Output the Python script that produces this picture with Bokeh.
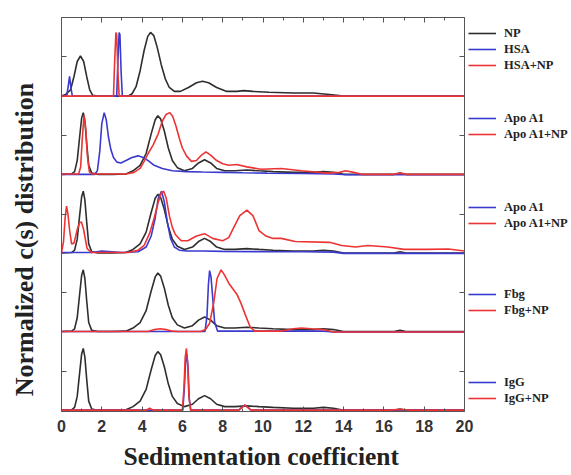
from bokeh.plotting import figure
from bokeh.models import (Range1d, LinearAxis, FixedTicker, Legend, LegendItem, Title, Label)
from bokeh.embed import file_html
from bokeh.resources import INLINE
import math

# ---------------- data ----------------
x_ticks = [0, 2, 4, 6, 8, 10, 12, 14, 16, 18, 20]
x_minor = [0, 1, 2, 3, 4, 5, 6, 7, 8, 9, 10, 11, 12, 13, 14, 15, 16, 17, 18, 19, 20]
y_ticks = [0.5, 1.5, 2.5, 3.5, 4.5]

# panel 1 (top): NP / HSA / HSA+NP
np1_x = [0, 0.2, 0.45, 0.62, 0.78, 0.94, 1.1, 1.25, 1.4, 1.55, 1.8, 3.3, 3.5, 3.7, 3.9, 4.1, 4.28, 4.42, 4.58,
         4.75, 4.95, 5.15, 5.35, 5.6, 5.9, 6.3, 6.7, 7.0, 7.3, 7.7, 8.2, 8.7, 9.05, 9.5, 10.3, 11.5, 12.5, 13.3, 14.0, 20]
np1_y = [0, 0.02, 0.08, 0.25, 0.44, 0.51, 0.44, 0.25, 0.08, 0.01, 0, 0, 0.03, 0.12, 0.32, 0.58, 0.76, 0.81, 0.77,
         0.62, 0.40, 0.22, 0.11, 0.06, 0.06, 0.11, 0.17, 0.19, 0.17, 0.11, 0.06, 0.06, 0.07, 0.06, 0.05, 0.04, 0.04, 0.02, 0.0, 0.0]
hsa_x = [0, 0.26, 0.33, 0.4, 0.47, 0.54, 2.74, 2.8, 2.86, 2.9, 2.96, 3.02, 20]
hsa_y = [0, 0, 0.12, 0.25, 0.1, 0, 0, 0.45, 0.81, 0.78, 0.3, 0, 0]
hsanp_x = [0, 2.58, 2.64, 2.7, 2.74, 2.8, 2.86, 20]
hsanp_y = [0, 0, 0.45, 0.81, 0.78, 0.3, 0, 0]

# NP reference curve used in panels 2-5
np_x = [0, 0.5, 0.65, 0.78, 0.9, 1.0, 1.08, 1.16, 1.25, 1.35, 1.5, 1.8, 2.5, 3.2, 3.55, 3.9, 4.2, 4.45, 4.65, 4.78,
        4.92, 5.1, 5.3, 5.5, 5.75, 6.1, 6.5, 6.8, 7.1, 7.4, 7.7, 8.1, 8.6, 9.2, 9.8, 10.5, 11.5, 12.5, 13.0, 13.5,
        14.0, 16.5, 16.8, 17.1, 20]
np_y = [0.005, 0.01, 0.04, 0.18, 0.48, 0.72, 0.79, 0.68, 0.40, 0.12, 0.02, 0.005, 0.005, 0.01, 0.05, 0.12, 0.27,
        0.52, 0.70, 0.75, 0.71, 0.56, 0.34, 0.18, 0.09, 0.05, 0.08, 0.15, 0.19, 0.15, 0.08, 0.05, 0.05, 0.06, 0.05,
        0.04, 0.03, 0.03, 0.04, 0.03, 0.005, 0.005, 0.02, 0.005, 0.005]

# panel 2: Apo A1 / Apo A1+NP
apo2_x = [0, 1.65, 1.78, 1.9, 2.0, 2.12, 2.22, 2.33, 2.45, 2.58, 2.75, 2.95, 3.2, 3.5, 3.8, 4.05, 4.3, 4.6, 5.0,
          5.5, 6.2, 7.0, 8.0, 9.0, 10.2, 12.0, 13.5, 14.2, 20]
apo2_y = [0.005, 0.005, 0.05, 0.3, 0.65, 0.79, 0.7, 0.48, 0.32, 0.22, 0.16, 0.15, 0.18, 0.22, 0.24, 0.22, 0.18,
          0.12, 0.08, 0.05, 0.04, 0.035, 0.03, 0.025, 0.02, 0.015, 0.01, 0.0, 0.0]
apo2np_x = [0, 0.85, 0.95, 1.03, 1.12, 1.2, 1.28, 1.38, 1.5, 3.2, 3.6, 3.9, 4.1, 4.3, 4.55, 4.8, 5.0, 5.2, 5.38,
            5.52, 5.68, 5.85, 6.0, 6.2, 6.45, 6.7, 6.95, 7.17, 7.4, 7.7, 8.0, 8.3, 8.7, 9.2, 9.9, 10.9, 11.9, 13.2,
            13.8, 14.1, 14.5, 14.9, 16.5, 16.8, 17.1, 20]
apo2np_y = [0.01, 0.01, 0.1, 0.45, 0.76, 0.6, 0.25, 0.04, 0.01, 0.01, 0.03, 0.08, 0.17, 0.27, 0.38, 0.52, 0.68,
            0.77, 0.79, 0.74, 0.62, 0.46, 0.34, 0.24, 0.17, 0.18, 0.25, 0.29, 0.25, 0.18, 0.14, 0.12, 0.13, 0.10,
            0.07, 0.08, 0.05, 0.02, 0.03, 0.05, 0.03, 0.005, 0.005, 0.02, 0.005, 0.005]

# panel 3: Apo A1 / Apo A1+NP
apo3_x = [0, 1.5, 2.0, 2.5, 3.0, 3.8, 4.2, 4.45, 4.65, 4.8, 4.96, 5.1, 5.25, 5.41, 5.6, 5.85, 6.2, 7.0, 8.0,
          10.3, 12.0, 13.5, 14.0, 20]
apo3_y = [0.01, 0.01, 0.03, 0.02, 0.01, 0.02, 0.08, 0.22, 0.45, 0.7, 0.79, 0.66, 0.4, 0.19, 0.08, 0.04, 0.03,
          0.03, 0.025, 0.02, 0.02, 0.015, 0.0, 0.0]
apo3np_x = [0, 0.1, 0.18, 0.25, 0.32, 0.4, 0.5, 0.62, 0.78, 0.9, 0.99, 1.1, 1.27, 1.5, 3.3, 3.8, 4.1, 4.38, 4.6,
            4.8, 4.95, 5.07, 5.2, 5.36, 5.5, 5.65, 5.94, 6.27, 6.7, 7.1, 7.5, 8.0, 8.3, 8.55, 8.85, 9.2, 9.5, 9.8,
            10.15, 10.5, 10.9, 11.6, 13.3, 13.9, 14.6, 15.2, 16.2, 17.0, 18.2, 19.2, 20]
apo3np_y = [0.01, 0.15, 0.45, 0.6, 0.5, 0.3, 0.12, 0.13, 0.3, 0.39, 0.4, 0.3, 0.06, 0.01, 0.01, 0.04, 0.1, 0.26,
            0.45, 0.65, 0.77, 0.79, 0.7, 0.47, 0.33, 0.24, 0.16, 0.16, 0.22, 0.25, 0.19, 0.16, 0.2, 0.33, 0.48,
            0.55, 0.48, 0.29, 0.22, 0.19, 0.19, 0.15, 0.14, 0.10, 0.08, 0.10, 0.08, 0.05, 0.05, 0.055, 0.03]

# panel 4: Fbg / Fbg+NP
fbg_x = [0, 7.12, 7.22, 7.29, 7.35, 7.42, 7.5, 7.6, 7.75, 9.0, 13.0, 13.5, 20]
fbg_y = [0.005, 0.005, 0.2, 0.6, 0.78, 0.7, 0.45, 0.12, 0.01, 0.01, 0.01, 0.0, 0.0]
fbgnp_x = [0, 4.3, 4.6, 4.9, 5.2, 5.5, 5.8, 6.9, 7.15, 7.35, 7.56, 7.72, 7.92, 8.1, 8.3, 8.5, 8.7, 8.9, 9.12,
           9.37, 9.6, 10.9, 11.5, 11.9, 12.4, 13.0, 13.5, 20]
fbgnp_y = [0.005, 0.005, 0.03, 0.04, 0.03, 0.01, 0.005, 0.005, 0.03, 0.11, 0.38, 0.68, 0.79, 0.72, 0.62, 0.55,
           0.48, 0.37, 0.22, 0.06, 0.01, 0.01, 0.04, 0.05, 0.04, 0.03, 0.0, 0.0]

# panel 5: IgG / IgG+NP
igg_x = [0, 6.02, 6.1, 6.16, 6.22, 6.28, 6.34, 6.42, 8.8, 8.95, 9.1, 9.25, 9.4, 20]
igg_y = [0.005, 0.005, 0.3, 0.62, 0.72, 0.55, 0.15, 0.005, 0.005, 0.04, 0.07, 0.04, 0.005, 0.005]
iggnp_x = [0, 4.2, 4.38, 4.55, 6.0, 6.08, 6.14, 6.2, 6.26, 6.32, 6.4, 8.8, 8.95, 9.1, 9.25, 9.4, 16.3, 16.8, 17.3, 20]
iggnp_y = [0.005, 0.005, 0.03, 0.005, 0.005, 0.3, 0.68, 0.79, 0.6, 0.2, 0.005, 0.005, 0.04, 0.07, 0.04, 0.005,
           0.005, 0.015, 0.005, 0.005]

# panels: (offset, black curve, blue curve, red curve, labels)
panels = [
    (4, (np1_x, np1_y), (hsa_x, hsa_y), (hsanp_x, hsanp_y), ["NP", "HSA", "HSA+NP"]),
    (3, (np_x, np_y), (apo2_x, apo2_y), (apo2np_x, apo2np_y), ["Apo A1", "Apo A1+NP"]),
    (2, (np_x, np_y), (apo3_x, apo3_y), (apo3np_x, apo3np_y), ["Apo A1", "Apo A1+NP"]),
    (1, (np_x, np_y), (fbg_x, fbg_y), (fbgnp_x, fbgnp_y), ["Fbg", "Fbg+NP"]),
    (0, (np_x, np_y), (igg_x, igg_y), (iggnp_x, iggnp_y), ["IgG", "IgG+NP"]),
]

# ---------------- styling / layout ----------------
BLACK = "#2e2e2e"
BLUE = "#3a3ad0"
RED = "#ec3434"
AXIS = "#555555"
SERIF = "Liberation Serif"
SANS = "Liberation Sans"
LW = 1.6

FIG_W, FIG_H = 571, 475
B_LEFT, B_RIGHT, B_TOP, B_BOTTOM = 2, 2, 17, 64
X_MAX = 20.0
PX_PER_X = 403 / X_MAX            # x = 0..20 spans page px 61..464
X0_PX = 61
frame_w = FIG_W - B_LEFT - B_RIGHT
x_start = -(X0_PX - B_LEFT) / PX_PER_X
x_end = x_start + frame_w / PX_PER_X
Y_BOTTOM = -0.012

p = figure(width=FIG_W, height=FIG_H, output_backend="svg", toolbar_location=None,
           x_range=Range1d(x_start, x_end), y_range=Range1d(Y_BOTTOM, 5.0),
           min_border_left=B_LEFT, min_border_right=B_RIGHT, min_border_top=B_TOP, min_border_bottom=B_BOTTOM,
           x_axis_location=None, y_axis_location=None)
p.xgrid.visible = False
p.ygrid.visible = False
p.outline_line_color = None
p.background_fill_color = "white"
p.border_fill_color = "white"


def style_axis(ax, labels):
    ax.axis_line_color = AXIS
    ax.major_tick_line_color = AXIS
    ax.minor_tick_line_color = AXIS
    ax.major_tick_in, ax.major_tick_out = 5, 0
    ax.minor_tick_in, ax.minor_tick_out = 3, 0
    if labels:
        ax.major_label_text_font = SANS
        ax.major_label_text_font_style = "bold"
        ax.major_label_text_font_size = "16px"
        ax.major_label_text_color = "#333333"
        ax.major_label_standoff = 8
    else:
        ax.major_label_overrides = {t: "" for t in ax.ticker.ticks}
        ax.major_label_standoff = 0


xb = LinearAxis(ticker=FixedTicker(ticks=x_ticks, minor_ticks=x_minor), bounds=(0, X_MAX))
style_axis(xb, True)
p.add_layout(xb, "below")
xt = LinearAxis(ticker=FixedTicker(ticks=x_ticks, minor_ticks=x_minor), bounds=(0, X_MAX))
style_axis(xt, False)
p.add_layout(xt, "above")
yl = LinearAxis(ticker=FixedTicker(ticks=y_ticks, minor_ticks=[]), fixed_location=0)
style_axis(yl, False)
p.add_layout(yl, "left")
yr = LinearAxis(ticker=FixedTicker(ticks=y_ticks, minor_ticks=[]), fixed_location=X_MAX)
style_axis(yr, False)
p.add_layout(yr, "right")

p.add_layout(Title(text="Sedimentation coefficient", text_font=SERIF, text_font_style="bold",
                   text_font_size="25.5px", text_color="#222222", align="left",
                   offset=123 - B_LEFT, standoff=10),
             "below")

frame_bottom = FIG_H - B_BOTTOM          # page pixel of the frame bottom (411)
p.add_layout(Label(x=24 - B_LEFT, y=frame_bottom - 239, x_units="screen", y_units="screen",
                   text="Normalized c(s) distribution", angle=math.pi / 2,
                   text_font=SERIF, text_font_style="bold", text_font_size="26px",
                   text_color="#222222", text_align="center", text_baseline="middle"),
             "center")

legend_tops = [25, 110, 199, 286, 374]   # page pixel of each legend's top
legend_left = 468 - B_LEFT               # px from frame left

for (off, blk, blu, red, labels), ltop in zip(panels, legend_tops):
    rb = p.line(blk[0], [v + off for v in blk[1]], line_color=BLACK, line_width=LW)
    ru = p.line(blu[0], [v + off for v in blu[1]], line_color=BLUE, line_width=LW)
    rr = p.line(red[0], [v + off for v in red[1]], line_color=RED, line_width=LW)
    if len(labels) == 3:
        items = [LegendItem(label=labels[0], renderers=[rb]),
                 LegendItem(label=labels[1], renderers=[ru]),
                 LegendItem(label=labels[2], renderers=[rr])]
    else:
        items = [LegendItem(label=labels[0], renderers=[ru]),
                 LegendItem(label=labels[1], renderers=[rr])]
    h = 16 * len(items)
    leg = Legend(items=items, location=(legend_left, frame_bottom - (ltop + h)),
                 orientation="vertical", border_line_color=None, background_fill_alpha=0,
                 padding=0, margin=0, spacing=0, glyph_width=28, glyph_height=16,
                 label_height=16, label_standoff=8,
                 label_text_font=SERIF, label_text_font_style="bold", label_text_font_size="12.5px",
                 label_text_color="#222222", label_text_baseline="middle")
    p.add_layout(leg, "center")

open("out.html", "w").write(file_html(p, INLINE))
